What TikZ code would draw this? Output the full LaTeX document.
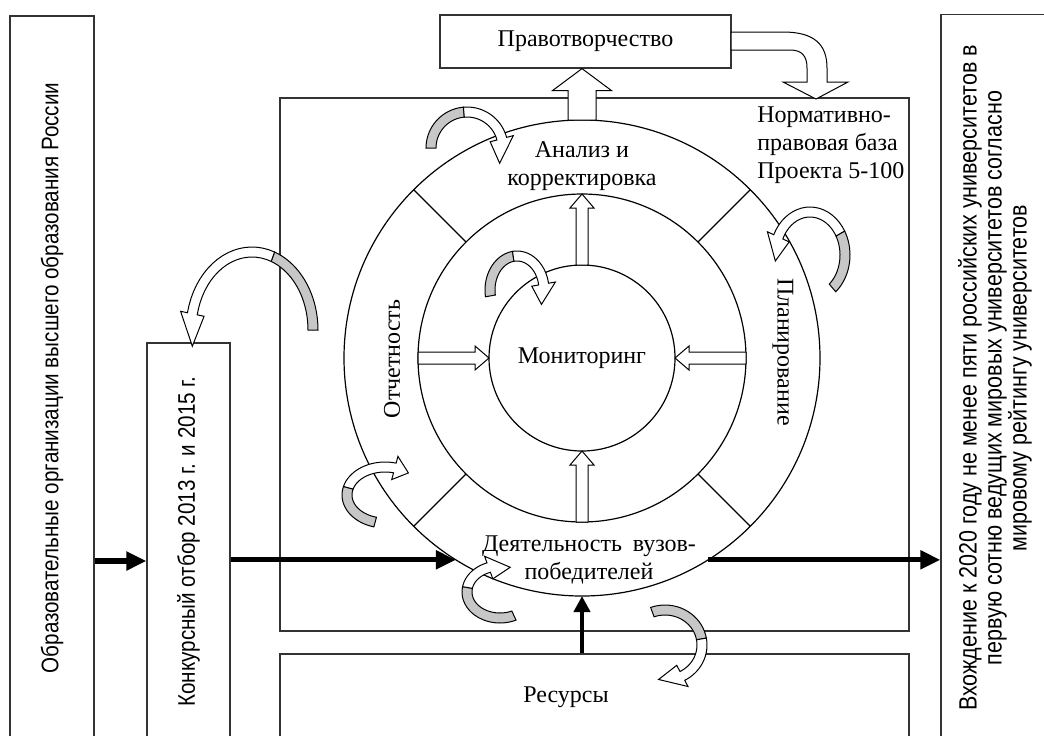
\documentclass[tikz,border=0pt]{standalone}
\usepackage{fontspec}
\setmainfont{Liberation Serif}
\newfontfamily\narrowsans[FakeStretch=0.86]{Liberation Sans}
\usetikzlibrary{arrows.meta,calc}

\tikzset{
  frame/.style={draw=black!80, line width=0.6pt},
  ring/.style={circle, draw, line width=0.6pt, outer sep=0pt, inner sep=0pt},
  lbl/.style={font=\fontsize{12}{14}\selectfont, align=center, inner sep=0pt},
  sidetext/.style={font=\narrowsans\fontsize{12}{12.5}\selectfont, align=center},
  flow/.style={line width=2.6pt, -{Triangle[length=10pt,width=9pt]}},
  feed/.style={line width=2pt, -{Triangle[length=8pt,width=8pt]}},
  hollow/.style={draw, fill=white, line width=0.5pt, line join=miter},
  ribbonback/.style={draw, fill=black!22, line width=0.5pt},
  ribbonfront/.style={draw, fill=white, line width=0.5pt}
}

% block arrow: from, to, half shaft, half head, head length
\newcommand{\hollowarrow}[5]{%
  \coordinate (ha-b) at ($(#2)!#5!(#1)$);
  \draw[hollow] ($(#1)!#3!90:(#2)$) -- ($(ha-b)!#3!-90:(#1)$) -- ($(ha-b)!#4!-90:(#1)$)
    -- (#2) -- ($(ha-b)!#4!90:(#1)$) -- ($(ha-b)!#3!90:(#1)$) -- ($(#1)!#3!-90:(#2)$) -- cycle;
}

% curved ribbon: centre x, y, radii x, y, start, turn, head base, tip (angles)
\newcommand{\ribbon}[8]{%
  \filldraw[ribbonback]
    plot[domain=0:1, samples=20] ({#1+(#3+5)*cos((#5)+((#6)-(#5))*\x)},{#2+(#4+5)*sin((#5)+((#6)-(#5))*\x)})
    -- plot[domain=0:1, samples=20] ({#1+(#3-5)*cos((#6)+((#5)-(#6))*\x)},{#2+(#4-5)*sin((#6)+((#5)-(#6))*\x)})
    -- cycle;
  \filldraw[ribbonfront]
    plot[domain=0:1, samples=20] ({#1+(#3+5)*cos((#6)+((#7)-(#6))*\x)},{#2+(#4+5)*sin((#6)+((#7)-(#6))*\x)})
    -- ({#1+(#3+12)*cos(#7)},{#2+(#4+12)*sin(#7)})
    -- ({#1+#3*cos(#8)},{#2+#4*sin(#8)})
    -- ({#1+(#3-12)*cos(#7)},{#2+(#4-12)*sin(#7)})
    -- plot[domain=0:1, samples=20] ({#1+(#3-5)*cos((#7)+((#6)-(#7))*\x)},{#2+(#4-5)*sin((#7)+((#6)-(#7))*\x)})
    -- cycle;
}

\begin{document}
\begin{tikzpicture}[x=0.5pt, y=-0.5pt]
  \useasboundingbox (0,0) rectangle (1044,735);
  \clip (0,0) rectangle (1044,735);

  % outer boxes
  \node[frame, sidetext, rotate=90, minimum width=362pt, minimum height=42pt] (vuzy) at (52,378)
    {Образовательные организации высшего образования России};
  \node[frame, sidetext, rotate=90, minimum width=198.5pt, minimum height=41.5pt] (konk) at (188.5,541.5)
    {Конкурсный отбор 2013 г. и 2015 г.};
  \node[frame, sidetext, font=\narrowsans\fontsize{12.5}{12.5}\selectfont, rotate=90,
        minimum width=363.5pt, minimum height=54pt] (vhozh) at (995,378)
    {Вхождение к 2020 году не менее пяти российских университетов в\\
     первую сотню ведущих мировых университетов согласно\\
     мировому рейтингу университетов};
  \node[frame, minimum width=314.5pt, minimum height=266.5pt] (proj) at (594.5,364.5) {};
  \node[frame, minimum width=314.5pt, minimum height=43pt] (res) at (594.5,697) {};
  \node[lbl] (reslabel) at (566,697) {Ресурсы};
  \node[frame, lbl, minimum width=145.5pt, minimum height=26.5pt] (pravo) at (585.5,41.5) {Правотворчество};

  % cycle
  \node[ring, minimum size=238pt] (outer) at (582,358) {};
  \node[ring, minimum size=164pt] (middle) at (582,358) {};
  \node[ring, lbl, minimum size=93pt] (inner) at (582,358) {Мониторинг};
  \foreach \a in {45,135,225,315}
    \draw[line width=0.6pt] (outer.\a) -- (middle.\a);

  \node[lbl] (anal) at (582,166) {Анализ и\\корректировка};
  \node[lbl] (deyat) at (589,560) {Деятельность\hspace{0.45em}вузов-\\победителей};
  \node[lbl, rotate=90] (otch) at (392,359) {Отчетность};
  \node[lbl, rotate=-90] (plan) at (783,352) {Планирование};
  \node[lbl, anchor=west, align=left] (norm) at (757,145) {Нормативно-\\правовая база\\Проекта 5-100};

  % flows
  \coordinate (flow) at (0,561);
  \draw[flow] (vuzy.south |- flow) -- (konk.north |- flow);
  \draw[flow] (konk.south |- outer.238.5) -- (outer.238.5);
  \draw[flow] (outer.-58.5) -- (vhozh.north |- outer.-58.5);
  \draw[feed] (res.north -| outer.south) -- (outer.south);

  % block arrows
  \hollowarrow{outer.north}{pravo.south -| outer.north}{7pt}{14.75pt}{11pt}
  \hollowarrow{inner.north}{middle.north}{3pt}{6pt}{7pt}
  \hollowarrow{middle.south}{inner.south}{3pt}{6pt}{7pt}
  \hollowarrow{middle.west}{inner.west}{3pt}{6pt}{7pt}
  \hollowarrow{middle.east}{inner.east}{3pt}{6pt}{7pt}
  \draw[hollow] (731,32) -- (783,32) .. controls (815,32) and (827,45) .. (827,68) -- (827,82)
    -- (848,82) -- (816,99) -- (783,82) -- (807,82) -- (807,68)
    .. controls (807,56) and (802,50) .. (790,50) -- (731,50) -- cycle;

  % turning arrows
  \ribbon{467}{148}{36}{36}{180}{265}{345}{385}
  \ribbon{517}{290}{27}{34}{170}{262}{350}{385}
  \ribbon{252}{330}{61}{78}{360}{290}{192}{168}
  \ribbon{810}{255}{35}{43}{50}{-30}{-155}{-188}
  \ribbon{385}{495}{38}{28}{105}{195}{285}{308}
  \ribbon{500}{592}{33}{26}{65}{190}{250}{288}
  \ribbon{665}{645}{37}{35}{250}{350}{422}{460}
\end{tikzpicture}
\end{document}
